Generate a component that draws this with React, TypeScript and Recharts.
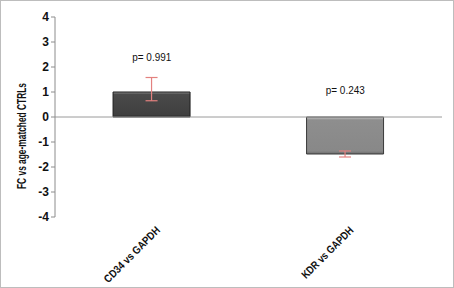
import {
  Bar,
  Cell,
  ComposedChart,
  ErrorBar,
  ReferenceLine,
  Scatter,
  XAxis,
  YAxis,
} from 'recharts';

const CATEGORIES = ['CD34 vs GAPDH', 'KDR vs GAPDH'];
const FOLD_CHANGE = [1.0, -1.48];
const ERR_LOW = [0.35, 0.12];
const ERR_HIGH = [0.58, 0.12];
const P_LABELS = ['p= 0.991', 'p= 0.243'];
// height (in FC units) where each p-value note sits
const P_LABEL_AT = [2.35, 1.05];
const Y_TICKS = [-4, -3, -2, -1, 0, 1, 2, 3, 4];

const BAR_FILLS = ['url(#gradDark)', 'url(#gradGrey)'];
const BAR_STROKES = ['#1e1e1e', '#3a3a3a'];

const FONT = '"Liberation Sans", Arial, sans-serif';

const data = CATEGORIES.map((name, i) => ({
  name,
  fc: FOLD_CHANGE[i],
  err: [ERR_LOW[i], ERR_HIGH[i]],
  pAt: P_LABEL_AT[i],
  p: P_LABELS[i],
}));

function PLabel(props: { cx?: number; cy?: number; payload?: { p: string } }) {
  const { cx = 0, cy = 0, payload } = props;
  return (
    <text
      x={cx}
      y={cy}
      textAnchor="middle"
      dominantBaseline="middle"
      fontSize={11}
      textLength={39}
      lengthAdjust="spacingAndGlyphs"
      fill="#111"
      fontFamily={FONT}
    >
      {payload?.p}
    </text>
  );
}

function CategoryTick(props: { x?: number; y?: number; payload?: { value: string } }) {
  const { x = 0, y = 0, payload } = props;
  // the label is squeezed to the narrow width it has in the original
  const len = (payload?.value.length ?? 12) * 5.7;
  const ax = x + 9;
  const ay = y + 6;
  return (
    <text
      x={ax}
      y={ay}
      transform={`rotate(-45 ${ax} ${ay})`}
      textAnchor="end"
      fontSize={11}
      fontWeight="bold"
      textLength={len}
      lengthAdjust="spacingAndGlyphs"
      fill="#111"
      fontFamily={FONT}
    >
      {payload?.value}
    </text>
  );
}

function YLabel() {
  const cx = 22;
  const cy = 135;
  return (
    <text
      x={cx}
      y={cy}
      transform={`rotate(-90 ${cx} ${cy})`}
      textAnchor="middle"
      dominantBaseline="middle"
      fontSize={12}
      fontWeight="bold"
      textLength={106}
      lengthAdjust="spacingAndGlyphs"
      fill="#111"
      fontFamily={FONT}
    >
      FC vs age-matched CTRLs
    </text>
  );
}

export default function App() {
  return (
    <div
      style={{
        position: 'absolute',
        left: 0,
        top: 0,
        width: 454,
        height: 288,
        boxSizing: 'border-box',
        border: '1px solid #bdbdbd',
        background: '#fff',
      }}
    >
      <ComposedChart
        width={452}
        height={286}
        data={data}
        margin={{ top: 16, right: 11, bottom: 0, left: 0 }}
        barCategoryGap="30%"
      >
        <defs>
          <linearGradient id="gradDark" x1="0" y1="0" x2="0" y2="1">
            <stop offset="0" stopColor="#8a8a8a" />
            <stop offset="0.1" stopColor="#4a4a4a" />
            <stop offset="0.9" stopColor="#3f3f3f" />
            <stop offset="1" stopColor="#2a2a2a" />
          </linearGradient>
          <linearGradient id="gradGrey" x1="0" y1="0" x2="0" y2="1">
            <stop offset="0" stopColor="#c8c8c8" />
            <stop offset="0.08" stopColor="#8e8e8e" />
            <stop offset="0.92" stopColor="#888888" />
            <stop offset="1" stopColor="#6a6a6a" />
          </linearGradient>
        </defs>
        <XAxis
          dataKey="name"
          axisLine={false}
          tickLine={false}
          height={70}
          interval={0}
          tick={<CategoryTick />}
        />
        <YAxis
          domain={[-4, 4]}
          ticks={Y_TICKS}
          interval={0}
          width={54}
          allowDataOverflow
          axisLine={{ stroke: '#8c8c8c' }}
          tickLine={{ stroke: '#8c8c8c' }}
          tickSize={4}
          tick={{ fontSize: 12, fontWeight: 'bold', fill: '#111', fontFamily: FONT }}
          label={<YLabel />}
        />
        <ReferenceLine y={0} stroke="#9a9a9a" />
        <Bar dataKey="fc" isAnimationActive={false} strokeWidth={1}>
          {data.map((d, i) => (
            <Cell key={d.name} fill={BAR_FILLS[i]} stroke={BAR_STROKES[i]} />
          ))}
          <ErrorBar dataKey="err" width={6} stroke="#e3817f" strokeWidth={1.2} />
        </Bar>
        <Scatter dataKey="pAt" isAnimationActive={false} shape={<PLabel />} />
      </ComposedChart>
    </div>
  );
}
